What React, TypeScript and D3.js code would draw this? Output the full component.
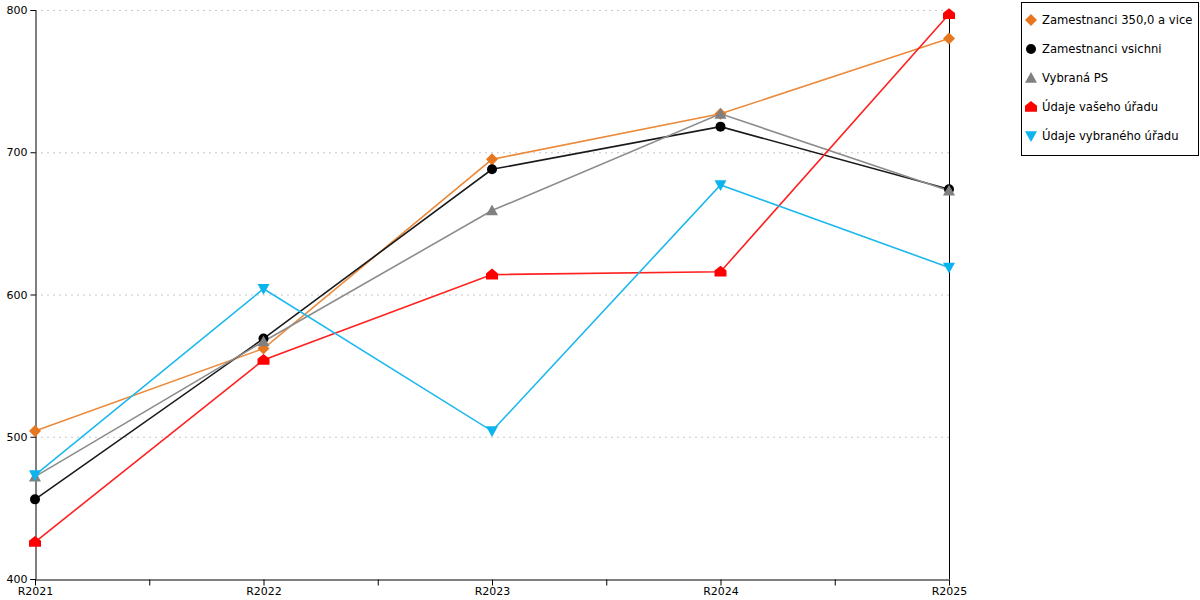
import React, { useEffect, useRef } from "react"
import * as d3 from "d3"

const WIDTH = 1200
const HEIGHT = 600
const PLOT = { left: 35, right: 949, top: 10, bottom: 579 }

const years = ["R2021", "R2022", "R2023", "R2024", "R2025"]
const yTicks = [400, 500, 600, 700, 800]

const names = [
    "Zamestnanci 350,0 a vice",
    "Zamestnanci vsichni",
    "Vybraná PS",
    "Údaje vašeho úřadu",
    "Údaje vybraného úřadu",
]
const colors = ["#e8761e", "#000000", "#808080", "#ff0000", "#0cb4ee"]
const lineColors = ["#ec8a3a", "#1a1a1a", "#8c8c8c", "#ff2020", "#1cb8ee"]
const shapes = ["diamond", "circle", "triUp", "house", "triDown"]

const s350 = [504, 562, 695, 727, 780]
const sAll = [456, 569, 688, 718, 674]
const sPS = [472, 567, 659, 727, 673]
const sVas = [426, 554, 614, 616, 797]
const sVyb = [473, 604, 504, 677, 619]
const seriesValues = [s350, sAll, sPS, sVas, sVyb]

const markerPath = (shape: string, s: number) => {
    switch (shape) {
        case "diamond":
            return `M0,${-s}L${s},0L0,${s}L${-s},0Z`
        case "triUp":
            return `M0,${-s}L${s},${s * 0.8}L${-s},${s * 0.8}Z`
        case "triDown":
            return `M0,${s}L${s},${-s * 0.8}L${-s},${-s * 0.8}Z`
        case "house":
            return `M0,${-s}L${s},${-s * 0.2}L${s},${s * 0.8}L${-s},${s * 0.8}L${-s},${-s * 0.2}Z`
        default:
            return d3.arc()({ innerRadius: 0, outerRadius: s, startAngle: 0, endAngle: 2 * Math.PI }) || ""
    }
}

const App: React.FC = () => {
    const svgRef = useRef<SVGSVGElement | null>(null)

    useEffect(() => {
        if (!svgRef.current) return
        const svg = d3.select(svgRef.current)
        svg.selectAll("*").remove()

        const x = d3.scalePoint<string>().domain(years).range([PLOT.left, PLOT.right])
        const y = d3.scaleLinear().domain([400, 800]).range([PLOT.bottom, PLOT.top])

        // mřížka
        svg.append("g")
            .selectAll("line")
            .data(yTicks.slice(1))
            .enter()
            .append("line")
            .attr("x1", PLOT.left)
            .attr("x2", PLOT.right)
            .attr("y1", d => y(d) + 0.5)
            .attr("y2", d => y(d) + 0.5)
            .attr("stroke", "#c8c8c8")
            .attr("stroke-dasharray", "2,4")

        // osa Y
        const yAxis = svg.append("g")
            .attr("transform", `translate(${PLOT.left + 0.5},0)`)
            .call(d3.axisLeft(y).tickValues(yTicks).tickSize(5).tickPadding(3))
        yAxis.selectAll("text").style("font-family", "DejaVu Sans").style("font-size", "11px").attr("fill", "#000")
        yAxis.select(".domain").attr("stroke", "#000")

        // osa X
        const mids = years.slice(1).map((_, i) => ((x(years[i])! + x(years[i + 1])!) / 2))
        const xAxis = svg.append("g")
            .attr("transform", `translate(0,${PLOT.bottom + 0.5})`)
            .call(d3.axisBottom(x).tickSize(6).tickPadding(2).tickSizeOuter(0))
        xAxis.selectAll("text").style("font-family", "DejaVu Sans").style("font-size", "11px").attr("fill", "#000")
        xAxis.select(".domain").attr("stroke", "#000")
        xAxis.selectAll("line.minor")
            .data(mids)
            .enter()
            .append("line")
            .attr("class", "minor")
            .attr("x1", d => d + 0.5)
            .attr("x2", d => d + 0.5)
            .attr("y1", 0)
            .attr("y2", 6)
            .attr("stroke", "#000")

        // pravá svislá čára
        svg.append("line")
            .attr("x1", PLOT.right + 0.5)
            .attr("x2", PLOT.right + 0.5)
            .attr("y1", PLOT.top)
            .attr("y2", PLOT.bottom)
            .attr("stroke", "#000")

        const line = d3.line<number>()
            .x((_, i) => x(years[i])!)
            .y(d => y(d))

        seriesValues.forEach((vals, si) => {
            svg.append("path")
                .datum(vals)
                .attr("d", line)
                .attr("fill", "none")
                .attr("stroke", lineColors[si])
                .attr("stroke-width", 1.6)
        })
        seriesValues.forEach((vals, si) => {
            svg.append("g")
                .selectAll("path")
                .data(vals)
                .enter()
                .append("path")
                .attr("transform", (d, i) => `translate(${x(years[i])},${y(d)})`)
                .attr("d", markerPath(shapes[si], shapes[si] === "circle" ? 5 : 6))
                .attr("fill", colors[si])
        })

        // legenda
        const legend = svg.append("g").attr("transform", "translate(1021,2)")
        legend.append("rect")
            .attr("x", 0.5)
            .attr("y", 0.5)
            .attr("width", 177)
            .attr("height", 153)
            .attr("fill", "#fff")
            .attr("stroke", "#000")
        const items = legend.selectAll("g.item")
            .data(names)
            .enter()
            .append("g")
            .attr("class", "item")
            .attr("transform", (_, i) => `translate(10,${18 + i * 29})`)
        items.append("path")
            .attr("d", (_, i) => markerPath(shapes[i], shapes[i] === "circle" ? 5 : 6))
            .attr("fill", (_, i) => colors[i])
        items.append("text")
            .attr("x", 11)
            .attr("dy", "0.35em")
            .style("font-family", "DejaVu Sans")
            .style("font-size", "11.6px")
            .text(d => d)
    }, [])

    return (
        <svg
            ref={svgRef}
            width={WIDTH}
            height={HEIGHT}
            style={{ position: "absolute", left: 0, top: 0, background: "#fff" }}
        />
    )
}

export default App
